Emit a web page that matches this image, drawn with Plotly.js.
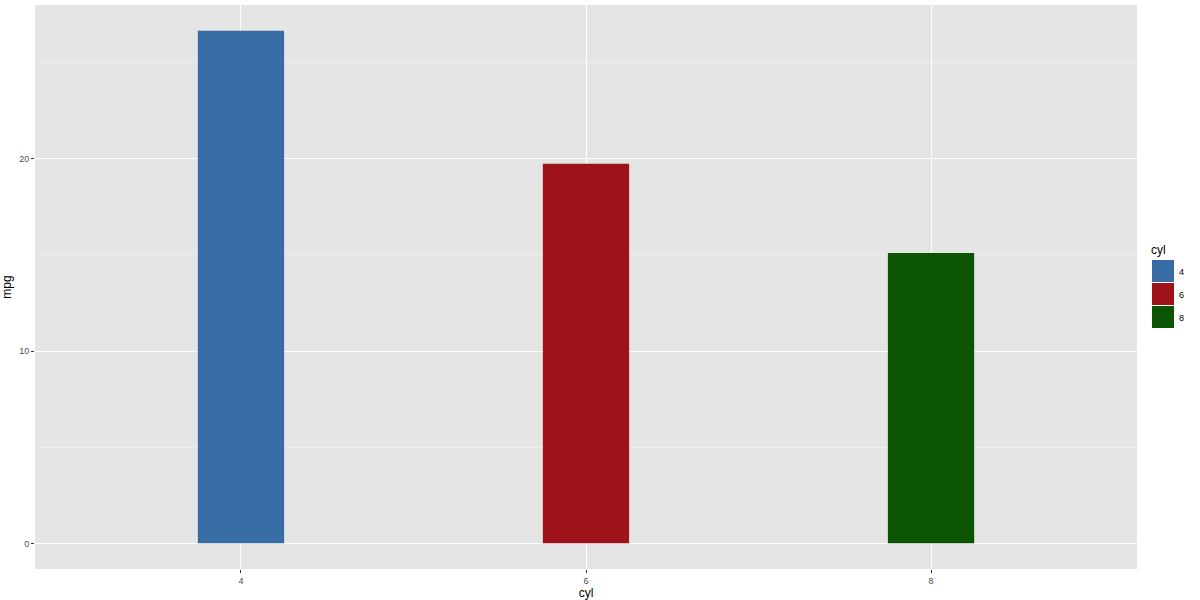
<!DOCTYPE html>
<html>
<head>
<meta charset="utf-8">
<script src="https://cdn.plot.ly/plotly-3.0.1.min.js"></script>
<style>html,body{margin:0;padding:0;background:#fff;}#chart{width:1200px;height:600px;}</style>
</head>
<body>
<div id="chart"></div>
<script>
const categories = [4, 6, 8];
const categoryLabels = ['4', '6', '8'];
const mpgMeans = [26.66, 19.74, 15.10];
const barColors = ['#386CA5', '#9E1219', '#0B5402'];
const yTickVals = [0, 10, 20];
const legendTitle = 'cyl';

const trace = {
  type: 'bar',
  x: categories,
  y: mpgMeans,
  width: 0.5,
  marker: {color: barColors, line: {width: 0}},
  showlegend: false,
  hoverinfo: 'x+y'
};

// Legend keys (ggplot style) built from the category arrays
const PL = 35, PR = 1137, PT = 5, PB = 569;
const px = v => (v - PL) / (PR - PL);
const py = v => 1 - (v - PT) / (PB - PT);
const shapes = [];
const annotations = [];
const keyX0 = 1152, keyW = 22, keyH = 22, keyTop = 260, keyGap = 1;
categories.forEach((c, i) => {
  const y0 = keyTop + i * (keyH + keyGap);
  shapes.push({
    type: 'rect', xref: 'paper', yref: 'paper',
    x0: px(keyX0), x1: px(keyX0 + keyW),
    y0: py(y0 + keyH), y1: py(y0),
    fillcolor: barColors[i], line: {width: 0}
  });
  annotations.push({
    xref: 'paper', yref: 'paper',
    x: px(keyX0 + keyW + 3), y: py(y0 + keyH / 2 + 1),
    xanchor: 'left', yanchor: 'middle', showarrow: false,
    text: categoryLabels[i],
    font: {family: 'Liberation Sans, Arial, sans-serif', size: 9, color: '#000'}
  });
});
annotations.push({
  xref: 'paper', yref: 'paper',
  x: px(1149), y: py(250),
  xanchor: 'left', yanchor: 'middle', showarrow: false,
  text: legendTitle,
  font: {family: 'Liberation Sans, Arial, sans-serif', size: 12, color: '#000'}
});

const layout = {
  width: 1200, height: 600,
  margin: {l: PL, r: 1200 - PR, t: PT, b: 600 - PB, pad: 0},
  paper_bgcolor: '#FFFFFF',
  plot_bgcolor: '#E5E5E5',
  showlegend: false,
  font: {family: 'Liberation Sans, Arial, sans-serif', color: '#4D4D4D', size: 9},
  xaxis: {
    range: [2.806, 9.194],
    tickvals: categories, ticktext: categoryLabels,
    showgrid: true, gridcolor: '#FFFFFF', gridwidth: 1,
    zeroline: false, showline: false,
    ticks: 'outside', ticklen: 3, tickwidth: 1, tickcolor: '#333333',
    tickfont: {size: 9, color: '#4D4D4D'},
    title: {text: 'cyl', font: {size: 12, color: '#000'}, standoff: 0},
    fixedrange: true
  },
  yaxis: {
    range: [-1.333, 28.0],
    tickvals: yTickVals, ticktext: yTickVals.map(String),
    showgrid: true, gridcolor: '#FFFFFF', gridwidth: 1,
    minor: {dtick: 5, tick0: 0, showgrid: true, gridcolor: '#F2F2F2', gridwidth: 0.6, ticks: ''},
    zeroline: false, showline: false,
    ticks: 'outside', ticklen: 3, tickwidth: 1, tickcolor: '#333333',
    tickfont: {size: 9, color: '#4D4D4D'},
    title: {text: 'mpg', font: {size: 12, color: '#000'}, standoff: 6},
    fixedrange: true
  },
  shapes: shapes,
  annotations: annotations
};

Plotly.newPlot('chart', [trace], layout, {displayModeBar: false, staticPlot: true});
</script>
</body>
</html>
